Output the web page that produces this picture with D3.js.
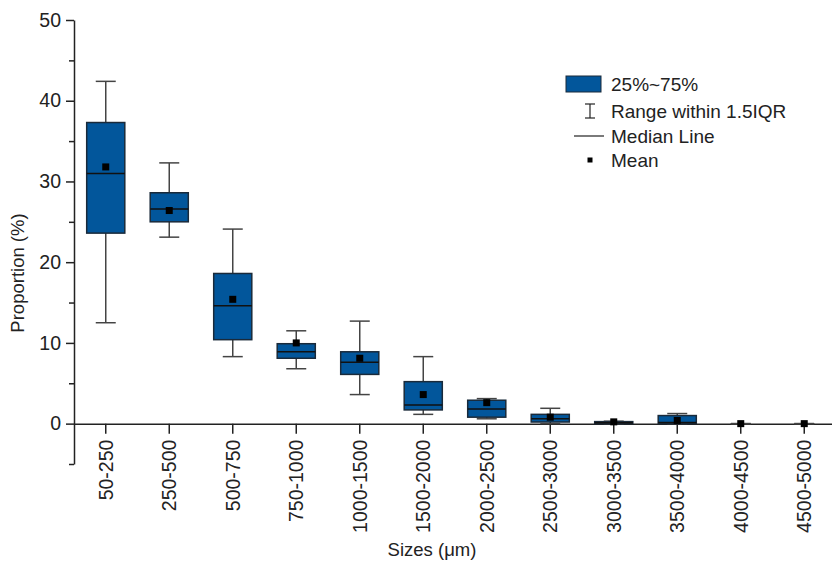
<!DOCTYPE html>
<html>
<head>
<meta charset="utf-8">
<script src="https://cdn.jsdelivr.net/npm/d3@7"></script>
<style>
  body { margin: 0; background: #fff; }
  svg { font-family: Arial, "Liberation Sans", sans-serif; }
</style>
</head>
<body>
<div id="chart"></div>
<script>
// Size classes (µm)
const categories = ["50-250", "250-500", "500-750", "750-1000", "1000-1500", "1500-2000",
  "2000-2500", "2500-3000", "3000-3500", "3500-4000", "4000-4500", "4500-5000"];

// Box statistics (%)
const whiskerLow  = [12.5, 23.1, 8.3, 6.8, 3.6, 1.15, 0.6, 0.0, 0.0, 0.0, 0.0, 0.0];
const q1Values    = [23.6, 25.0, 10.4, 8.1, 6.1, 1.7, 0.8, 0.2, 0.0, 0.0, 0.0, 0.0];
const medians     = [31.0, 26.6, 14.6, 8.9, 7.6, 2.3, 1.8, 0.6, 0.1, 0.15, 0.0, 0.0];
const q3Values    = [37.3, 28.6, 18.6, 9.9, 8.9, 5.2, 2.9, 1.15, 0.25, 1.0, 0.0, 0.0];
const whiskerHigh = [42.4, 32.3, 24.1, 11.5, 12.7, 8.3, 3.1, 1.9, 0.3, 1.25, 0.0, 0.0];
const means       = [31.8, 26.4, 15.4, 10.0, 8.1, 3.6, 2.6, 0.8, 0.22, 0.4, 0.0, 0.0];

const majorTicks = [0, 10, 20, 30, 40, 50];
const minorTicks = [-5, 5, 15, 25, 35, 45];

const legendLabels = ["25%~75%", "Range within 1.5IQR", "Median Line", "Mean"];

const width = 832, height = 561;
const boxFill = "#02569b";

const svg = d3.select("#chart").append("svg")
  .attr("width", width)
  .attr("height", height);

const x = d3.scaleBand()
  .domain(categories)
  .range([74, 836])
  .padding(0);

const y = d3.scaleLinear()
  .domain([-5, 50])
  .range([464, 20]);

const bw = x.bandwidth();
const boxW = bw * 0.6;
const capW = 20;

// Y axis (major ticks with labels)
const yAxis = svg.append("g")
  .attr("transform", "translate(74,0)")
  .call(d3.axisLeft(y).tickValues(majorTicks).tickSize(8).tickSizeOuter(0).tickPadding(5));
yAxis.select(".domain").attr("stroke", "#222").attr("stroke-width", 1.5);
yAxis.selectAll(".tick line").attr("stroke", "#222").attr("stroke-width", 1.5);
yAxis.selectAll(".tick text").attr("font-size", 19.5).attr("fill", "#222")
  .attr("font-family", "Arial, 'Liberation Sans', sans-serif");

// Y axis minor ticks
const yMinor = svg.append("g")
  .attr("transform", "translate(74,0)")
  .call(d3.axisLeft(y).tickValues(minorTicks).tickSize(5).tickFormat(""));
yMinor.select(".domain").remove();
yMinor.selectAll(".tick line").attr("stroke", "#222").attr("stroke-width", 1.5);

// X axis at y = 0
const xAxis = svg.append("g")
  .attr("transform", `translate(0,${y(0)})`)
  .call(d3.axisBottom(x).tickSize(10).tickSizeOuter(0).tickPadding(6));
xAxis.select(".domain").attr("d", `M74,0.5H832`).attr("stroke", "#222").attr("stroke-width", 1.5);
xAxis.selectAll(".tick line").attr("stroke", "#222").attr("stroke-width", 1.5);
xAxis.selectAll(".tick text")
  .attr("font-size", 19.5).attr("fill", "#222")
  .attr("font-family", "Arial, 'Liberation Sans', sans-serif")
  .attr("transform", "rotate(-90)")
  .attr("text-anchor", "end")
  .attr("dy", "0.35em")
  .attr("x", -16)
  .attr("y", 0);

// Boxes
const plot = svg.append("g");
categories.forEach((c, i) => {
  const cx = x(c) + bw / 2;
  const g = plot.append("g");

  // whiskers
  g.append("line")
    .attr("x1", cx).attr("x2", cx)
    .attr("y1", y(whiskerHigh[i])).attr("y2", y(q3Values[i]))
    .attr("stroke", "#444").attr("stroke-width", 1.5);
  g.append("line")
    .attr("x1", cx).attr("x2", cx)
    .attr("y1", y(q1Values[i])).attr("y2", y(whiskerLow[i]))
    .attr("stroke", "#444").attr("stroke-width", 1.5);
  [whiskerHigh[i], whiskerLow[i]].forEach(v => {
    g.append("line")
      .attr("x1", cx - capW / 2).attr("x2", cx + capW / 2)
      .attr("y1", y(v)).attr("y2", y(v))
      .attr("stroke", "#444").attr("stroke-width", 1.5);
  });

  // box
  if (q3Values[i] > q1Values[i]) {
    g.append("rect")
      .attr("x", cx - boxW / 2)
      .attr("y", y(q3Values[i]))
      .attr("width", boxW)
      .attr("height", y(q1Values[i]) - y(q3Values[i]))
      .attr("fill", boxFill)
      .attr("stroke", "#1a2a3a")
      .attr("stroke-width", 1.5);

    // median
    g.append("line")
      .attr("x1", cx - boxW / 2).attr("x2", cx + boxW / 2)
      .attr("y1", y(medians[i])).attr("y2", y(medians[i]))
      .attr("stroke", "#111").attr("stroke-width", 1.5);
  }

  // mean
  g.append("rect")
    .attr("x", cx - 3.5).attr("y", y(means[i]) - 3.5)
    .attr("width", 7).attr("height", 7)
    .attr("fill", "#000");
});

// Axis titles
svg.append("text")
  .attr("transform", `translate(24,273) rotate(-90)`)
  .attr("text-anchor", "middle")
  .attr("font-size", 18.5)
  .attr("fill", "#222")
  .text("Proportion (%)");

svg.append("text")
  .attr("x", 432)
  .attr("y", 556)
  .attr("text-anchor", "middle")
  .attr("font-size", 18.5)
  .attr("fill", "#222")
  .text("Sizes (\u03bcm)");

// Legend
const legend = svg.append("g").attr("transform", "translate(566,0)");
const rowY = [84, 111, 136, 160];

legend.append("rect")
  .attr("x", 0).attr("y", rowY[0] - 8)
  .attr("width", 35).attr("height", 16)
  .attr("fill", boxFill).attr("stroke", "#1a2a3a").attr("stroke-width", 1);

// whisker icon
legend.append("line").attr("x1", 24).attr("x2", 24)
  .attr("y1", rowY[1] - 7).attr("y2", rowY[1] + 7).attr("stroke", "#222").attr("stroke-width", 1.2);
[rowY[1] - 7, rowY[1] + 7].forEach(yy => {
  legend.append("line").attr("x1", 19).attr("x2", 29)
    .attr("y1", yy).attr("y2", yy).attr("stroke", "#222").attr("stroke-width", 1.2);
});

// median icon
legend.append("line").attr("x1", 8).attr("x2", 38)
  .attr("y1", rowY[2]).attr("y2", rowY[2]).attr("stroke", "#222").attr("stroke-width", 1.2);

// mean icon
legend.append("rect").attr("x", 21.5).attr("y", rowY[3] - 2.5)
  .attr("width", 5).attr("height", 5).attr("fill", "#000");

legend.selectAll("text.lg")
  .data(legendLabels)
  .join("text")
  .attr("class", "lg")
  .attr("x", 45)
  .attr("y", (d, i) => rowY[i])
  .attr("dy", "0.35em")
  .attr("font-size", 19)
  .attr("fill", "#222")
  .text(d => d);
</script>
</body>
</html>
